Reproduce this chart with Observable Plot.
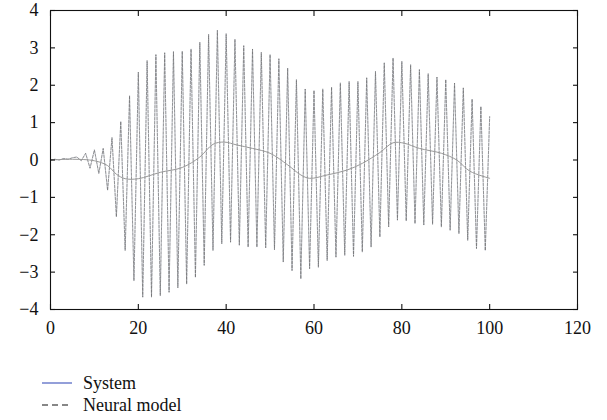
<!DOCTYPE html>
<html>
<head>
<meta charset="utf-8">
<script src="https://cdn.jsdelivr.net/npm/d3@7"></script>
<script src="https://cdn.jsdelivr.net/npm/@observablehq/plot@0.6"></script>
<style>
  body { margin: 0; background: #fff; font-family: 'Liberation Serif', serif; }
  #chart svg { display: block; }
  #chart svg text { font-family: 'Liberation Serif', serif !important; }
  .legend { margin-left: 42px; margin-top: 30px; font-family: 'Liberation Serif', serif; font-size: 18px; color: #111; }
  .legend .row { display: flex; align-items: center; height: 22px; }
  .legend svg { margin-right: 11px; }
</style>
</head>
<body>
<div id="chart"></div>
<div class="legend" id="legend"></div>
<script>
// Sample times (one sample per unit of time)
const times = d3.range(0, 101);
// Oscillating output (peaks on even times, troughs on odd times)
const signal = [
  0, 0.02, 0.0, 0.04, 0.02, 0.06, 0.08, -0.02, 0.18, -0.22,
  0.27, -0.36, 0.31, -0.81, 0.6, -1.52, 1.03, -2.42, 1.72, -3.23,
  2.35, -3.67, 2.66, -3.67, 2.82, -3.63, 2.87, -3.54, 2.9, -3.42,
  2.91, -3.32, 2.97, -3.14, 3.15, -2.82, 3.36, -2.42, 3.47, -2.24,
  3.38, -2.2, 3.23, -2.28, 3.06, -2.33, 2.97, -2.33, 2.88, -2.35,
  2.82, -2.4, 2.71, -2.73, 2.46, -2.96, 2.15, -3.18, 1.9, -2.91,
  1.86, -2.87, 1.9, -2.69, 1.95, -2.6, 2.06, -2.55, 2.1, -2.58,
  2.1, -2.46, 2.2, -2.33, 2.37, -2.06, 2.6, -1.79, 2.73, -1.61,
  2.64, -1.63, 2.55, -1.7, 2.42, -1.74, 2.31, -1.72, 2.22, -1.79,
  2.15, -1.88, 2.06, -1.97, 1.93, -2.15, 1.63, -2.37, 1.43, -2.42,
  1.16
];
// Slow component visible through the oscillation
const trendT = [0, 5, 10, 13, 15, 17, 20, 25, 30, 34, 37, 39.5, 42.5, 46, 50, 54, 57, 59, 63, 67.5, 71, 75, 78, 80.5, 84, 89, 92.5, 95.5, 100];
const trendY = [0, 0.02, -0.02, -0.15, -0.38, -0.5, -0.5, -0.33, -0.2, 0.08, 0.42, 0.48, 0.4, 0.31, 0.18, -0.13, -0.4, -0.49, -0.4, -0.27, -0.09, 0.2, 0.46, 0.45, 0.31, 0.18, 0, -0.3, -0.49];
const xTicks = [0, 20, 40, 60, 80, 100, 120];
const yTicks = [-4, -3, -2, -1, 0, 1, 2, 3, 4];
const seriesNames = ["System", "Neural model"];

const sig = times.map((t, i) => ({t, y: signal[i]}));
const trend = trendT.map((t, i) => ({t, y: trendY[i]}));

const serif = "'Liberation Serif', serif";
const blank = () => "";
const chart = Plot.plot({
  width: 607,
  height: 342,
  marginLeft: 50,
  marginRight: 30,
  marginTop: 10,
  marginBottom: 33,
  style: {fontFamily: serif, fontSize: "18px", color: "#111", background: "#fff"},
  x: {domain: [0, 120]},
  y: {domain: [-4, 4]},
  marks: [
    Plot.line(sig, {x: "t", y: "y", stroke: "#d2d5df", strokeWidth: 0.8}),
    Plot.line(sig, {x: "t", y: "y", stroke: "#666", strokeWidth: 0.9, strokeDasharray: "2.5,1.5", strokeOpacity: 0.7}),
    Plot.line(trend, {x: "t", y: "y", stroke: "#9a9a9a", strokeWidth: 1, curve: "catmull-rom"}),
    Plot.frame({stroke: "#111", strokeWidth: 1.1}),
    Plot.axisX(xTicks, {anchor: "bottom", tickSize: 0, tickPadding: 12, label: null, fontSize: 18, fontFamily: serif}),
    Plot.axisX(xTicks, {anchor: "bottom", tickSize: -5, tickFormat: blank, label: null, strokeWidth: 1.1}),
    Plot.axisX(xTicks, {anchor: "top", tickSize: -5, tickFormat: blank, label: null, strokeWidth: 1.1}),
    Plot.axisY(yTicks, {anchor: "left", tickSize: 0, tickPadding: 12, label: null, fontSize: 18, fontFamily: serif}),
    Plot.axisY(yTicks, {anchor: "left", tickSize: -5, tickFormat: blank, label: null, strokeWidth: 1.1}),
    Plot.axisY(yTicks, {anchor: "right", tickSize: -5, tickFormat: blank, label: null, strokeWidth: 1.1})
  ]
});
document.getElementById("chart").appendChild(chart);

const legend = document.getElementById("legend");
const styles = [
  {stroke: "#4b5fc0", dash: null},
  {stroke: "#111", dash: "6,4"}
];
seriesNames.forEach((name, i) => {
  const row = document.createElement("div");
  row.className = "row";
  const s = d3.create("svg").attr("width", 30).attr("height", 10);
  s.append("line").attr("x1", 0).attr("x2", 30).attr("y1", 5).attr("y2", 5)
    .attr("stroke", styles[i].stroke).attr("stroke-width", 1.2)
    .attr("stroke-dasharray", styles[i].dash);
  row.appendChild(s.node());
  const span = document.createElement("span");
  span.textContent = name;
  row.appendChild(span);
  legend.appendChild(row);
});
</script>
</body>
</html>
